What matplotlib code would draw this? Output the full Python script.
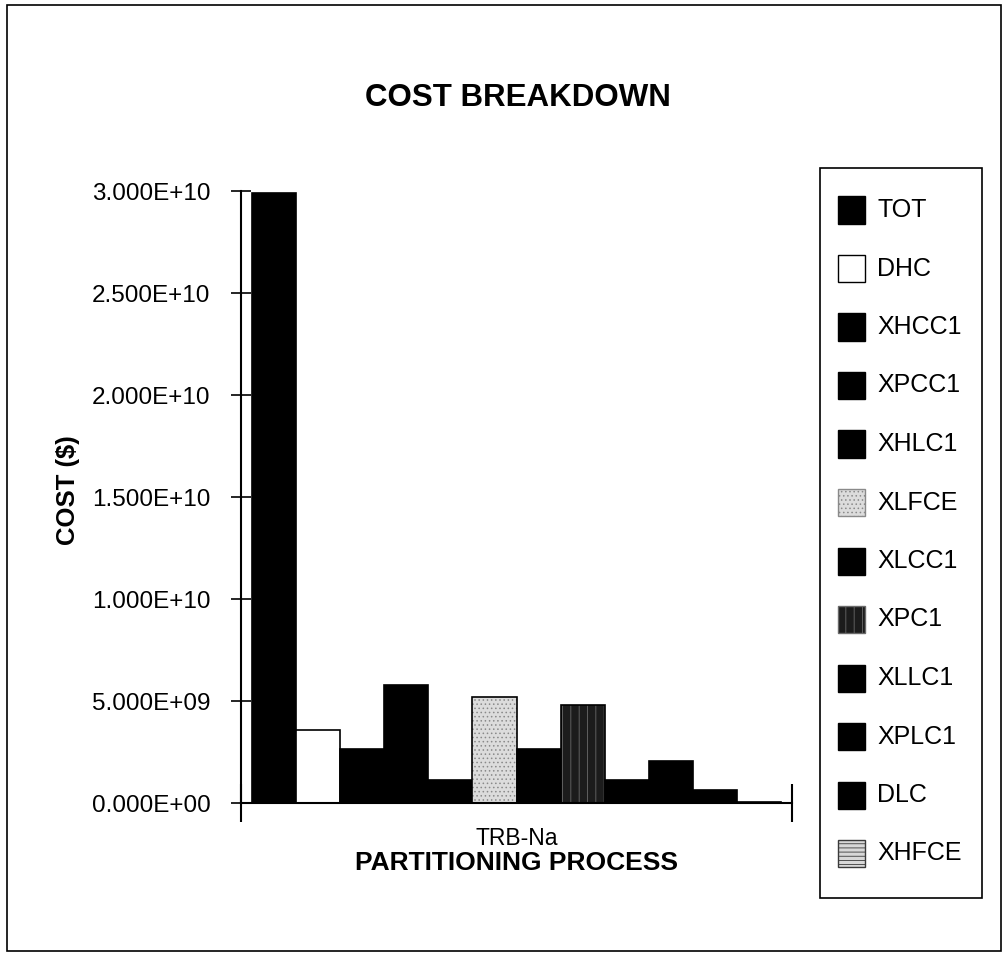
import matplotlib
matplotlib.use("Agg")
import matplotlib.pyplot as plt
from matplotlib.patches import Rectangle
import numpy as np

plt.rcParams['font.family'] = ['Liberation Sans', 'DejaVu Sans']
plt.rcParams['hatch.linewidth'] = 0.6

# Cost components for the TRB-Na partitioning process
process = ["TRB-Na"]
components = ["TOT", "DHC", "XHCC1", "XPCC1", "XHLC1", "XLFCE",
              "XLCC1", "XPC1", "XLLC1", "XPLC1", "DLC", "XHFCE"]
costs = [2.99e10, 3.59e9, 2.65e9, 5.80e9, 1.14e9, 5.21e9,
         2.66e9, 4.79e9, 1.13e9, 2.04e9, 0.64e9, 0.05e9]
y_ticks = [0, 5e9, 1e10, 1.5e10, 2e10, 2.5e10, 3e10]
y_tick_labels = ["0.000E+00", "5.000E+09", "1.000E+10", "1.500E+10",
                 "2.000E+10", "2.500E+10", "3.000E+10"]

# fill styles per component: (face colour, hatch, hatch colour)
styles = {
    "TOT": ("black", None, "black"),
    "DHC": ("white", None, "black"),
    "XHCC1": ("black", None, "black"),
    "XPCC1": ("black", None, "black"),
    "XHLC1": ("black", None, "black"),
    "XLFCE": ("#dcdcdc", "....", "#8a8a8a"),
    "XLCC1": ("black", None, "black"),
    "XPC1": ("#1c1c1c", "||", "#6a6a6a"),
    "XLLC1": ("black", None, "black"),
    "XPLC1": ("black", None, "black"),
    "DLC": ("black", None, "black"),
    "XHFCE": ("#d8d8d8", "----", "#3a3a3a"),
}

W, H = 1008, 957
fig = plt.figure(figsize=(W / 100, H / 100), dpi=100)


def fx(px):
    return px / W


def fy(py):
    return 1 - py / H


def frame(x0, y0, x1, y1, lw=1.2):
    fig.add_artist(Rectangle((fx(x0), fy(y1)), (x1 - x0) / W, (y1 - y0) / H,
                             transform=fig.transFigure, fill=False,
                             edgecolor="black", linewidth=lw))


# outer frame of the chart
frame(7, 5, 1001, 951)

ax = fig.add_axes([fx(241), fy(803), fx(551), 612 / H])

n = len(components)
group = 0.96
w = group / n
x0 = np.arange(len(process))
for i, (name, val) in enumerate(zip(components, costs)):
    fc, hatch, hc = styles[name]
    xpos = x0 - group / 2 + w * (i + 0.5)
    if hatch:
        ax.bar(xpos, [val], width=w, color=fc, edgecolor=hc, hatch=hatch,
               linewidth=0, zorder=2)
        ax.bar(xpos, [val], width=w, fill=False, edgecolor="black",
               linewidth=1.2, zorder=3)
    else:
        ax.bar(xpos, [val], width=w, color=fc, edgecolor="black",
               linewidth=1.2, zorder=2)

ax.set_xlim(-0.5, 0.5)
ax.set_ylim(0, 3e10)

for s in ("top", "right"):
    ax.spines[s].set_visible(False)
for s in ("left", "bottom"):
    ax.spines[s].set_linewidth(1.5)

ax.set_yticks(y_ticks)
ax.set_yticklabels(y_tick_labels, fontsize=17.5)
ax.tick_params(axis="y", direction="inout", length=14, width=1.2, pad=15)

ax.set_xticks(x0)
ax.set_xticklabels(process, fontsize=16.5)
ax.tick_params(axis="x", which="major", length=0, pad=17)
ax.set_xticks([-0.5, 0.5], minor=True)
ax.tick_params(axis="x", which="minor", direction="inout", length=28, width=1.5)

ax.set_xlabel("PARTITIONING PROCESS", fontsize=19, fontweight="bold")
ax.xaxis.set_label_coords(0.5, -(851 - 803) / 612)
fig.text(fx(68), fy(490), "COST ($)", fontsize=18.5, fontweight="bold",
         rotation=90, ha="center", va="center")
fig.text(fx(518), fy(98), "COST BREAKDOWN", fontsize=22.5,
         fontweight="bold", ha="center", va="center")

# legend: one swatch and label per component, boxed
frame(820, 168, 982, 898)
row0, pitch, sw = 210, 58.5, 27
for i, name in enumerate(components):
    fc, hatch, hc = styles[name]
    yc = row0 + pitch * i
    fig.add_artist(Rectangle((fx(838), fy(yc + sw / 2)), sw / W, sw / H,
                             transform=fig.transFigure, facecolor=fc,
                             edgecolor=hc if hatch else "black",
                             hatch=hatch, linewidth=1.0))
    fig.text(fx(877), fy(yc), name, fontsize=18, ha="left", va="center")

fig.savefig("out.png", dpi=100)
